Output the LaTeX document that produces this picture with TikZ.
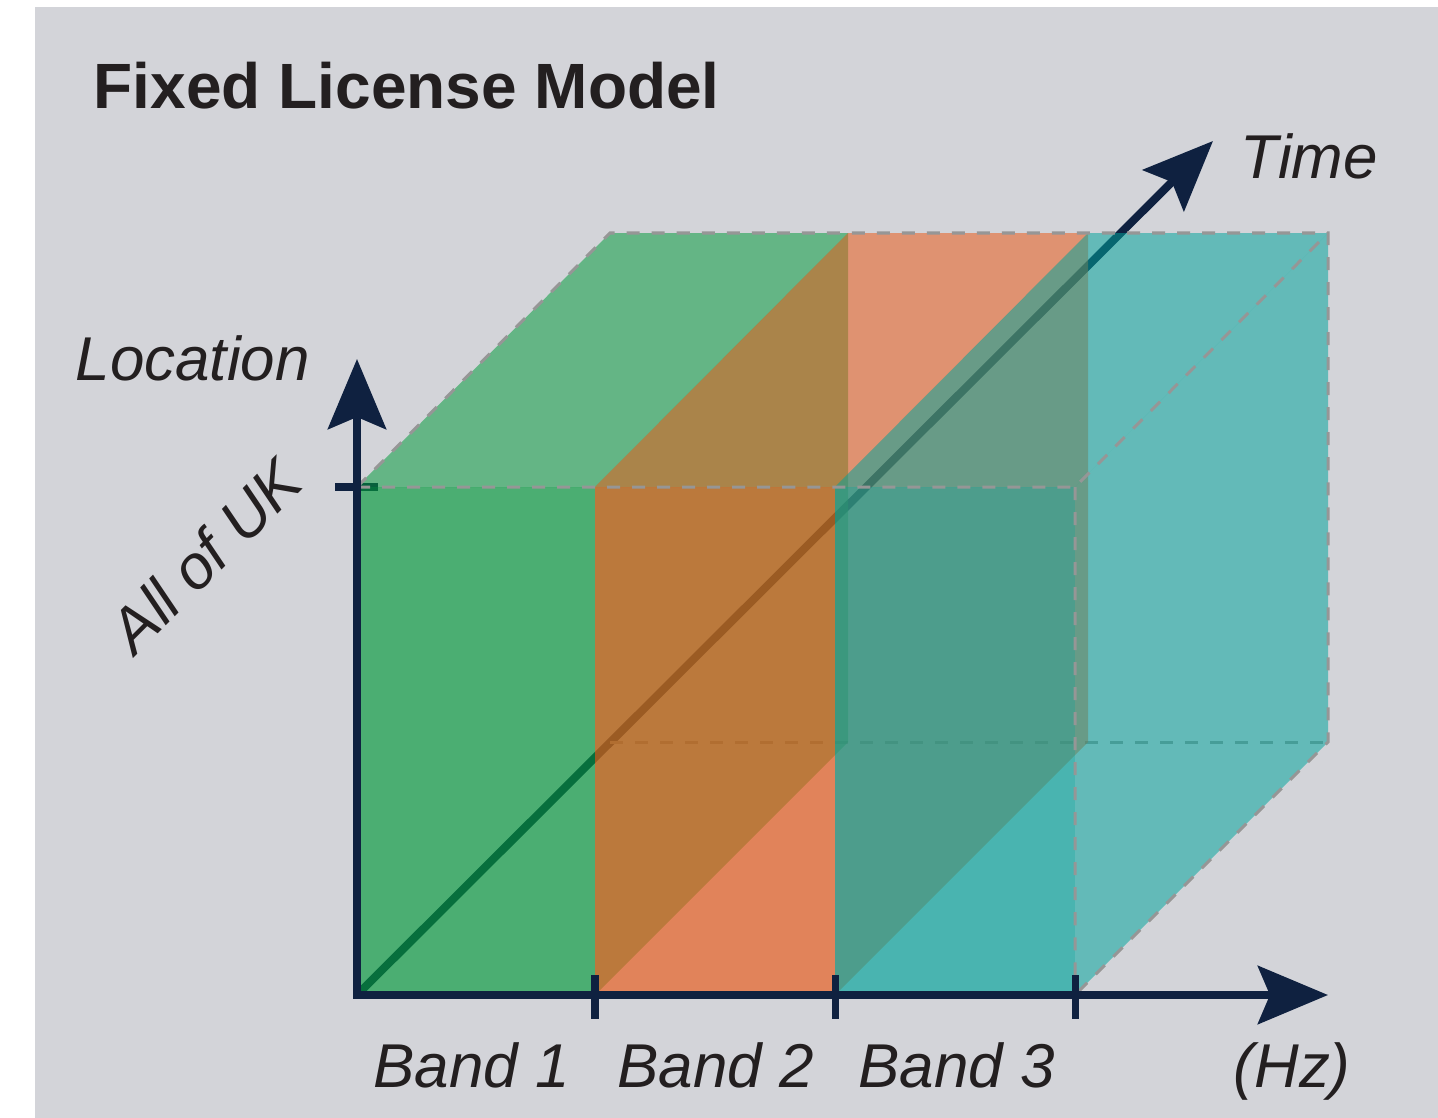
\documentclass[tikz,border=0pt]{standalone}
\usepackage{fontspec}
\setmainfont{Liberation Sans}
\usetikzlibrary{arrows.meta,positioning}

\definecolor{bggray}{RGB}{211,212,217}
\definecolor{axisblue}{RGB}{15,33,64}
\definecolor{edgegray}{RGB}{150,150,150}
\definecolor{inkblack}{RGB}{35,31,32}
\definecolor{bandgreen}{RGB}{3,154,60}
\definecolor{bandorange}{RGB}{234,89,22}
\definecolor{bandteal}{RGB}{0,164,155}

\tikzset{
  axis/.style={draw=axisblue, line width=0.08cm},
  tickmark/.style={draw=axisblue, line width=0.07cm},
  hidden/.style={draw=edgegray, line width=0.03cm, dash pattern=on 0.13cm off 0.12cm},
  lbl/.style={text=inkblack, inner sep=0pt, anchor=base west, font=\fontsize{17.6}{20}\selectfont\itshape},
}

\begin{document}
\begin{tikzpicture}
[x=0.01cm,y=-0.01cm,>={Stealth[length=0.7cm,width=0.58cm,inset=0.12cm]}]
\useasboundingbox (0,0) rectangle (1438,1118);
\fill[white] (0,0) rectangle (1438,1118);
\fill[bggray] (35,7) rectangle (1438,1118);

\coordinate (O) at (357,995);
\coordinate (xtip) at (1328,995);
\coordinate (ytip) at (357,359);
\coordinate (ttip) at (1213,141);

% time axis and hidden edge sit behind the bands
\draw[axis,->] (O) -- (ttip);
\draw[tickmark, line width=0.08cm] (335,487) -- (378,487);
\draw[hidden] (610,742) -- (1328,742);

% bands: side, top, front
\foreach \l/\r/\c in {357/595/bandgreen, 595/835/bandorange, 835/1075/bandteal}{
  \fill[\c, fill opacity=.53] (\r,487) -- (\r+253,233) -- (\r+253,742) -- (\r,995) -- cycle;
  \fill[\c, fill opacity=.53] (\l,487) -- (\l+253,233) -- (\r+253,233) -- (\r,487) -- cycle;
  \fill[\c, fill opacity=.65] (\l,487) rectangle (\r,995);
}

% outline of the whole block
\draw[hidden] (357,487) -- (610,233) -- (1328,233) -- (1328,742) -- (1075,995)
  (357,487) -- (1075,487) -- (1328,233)
  (1075,487) -- (1075,995);

\draw[axis,<->] (ytip) -- (O) -- (xtip);
\foreach \x in {595,835,1075}
  \draw[tickmark] (\x,975) -- (\x,1019);

\node[text=inkblack, inner sep=0pt, anchor=base west, font=\fontsize{18.2}{22}\selectfont\bfseries] (title) at (93,108) {Fixed License Model};
\node[lbl] (loc) at (75,380) {Location};
\node[lbl] (time) at (1240,178) {Time};
\node[lbl, anchor=base, rotate=45] (uk) at (221,571) {All of UK};
\node[lbl] (b1) at (373,1087) {Band 1};
\node[lbl] (b2) at (617,1087) {Band 2};
\node[lbl] (b3) at (858,1087) {Band 3};
\node[lbl] (hz) at (1233,1087) {(Hz)};
\end{tikzpicture}
\end{document}
